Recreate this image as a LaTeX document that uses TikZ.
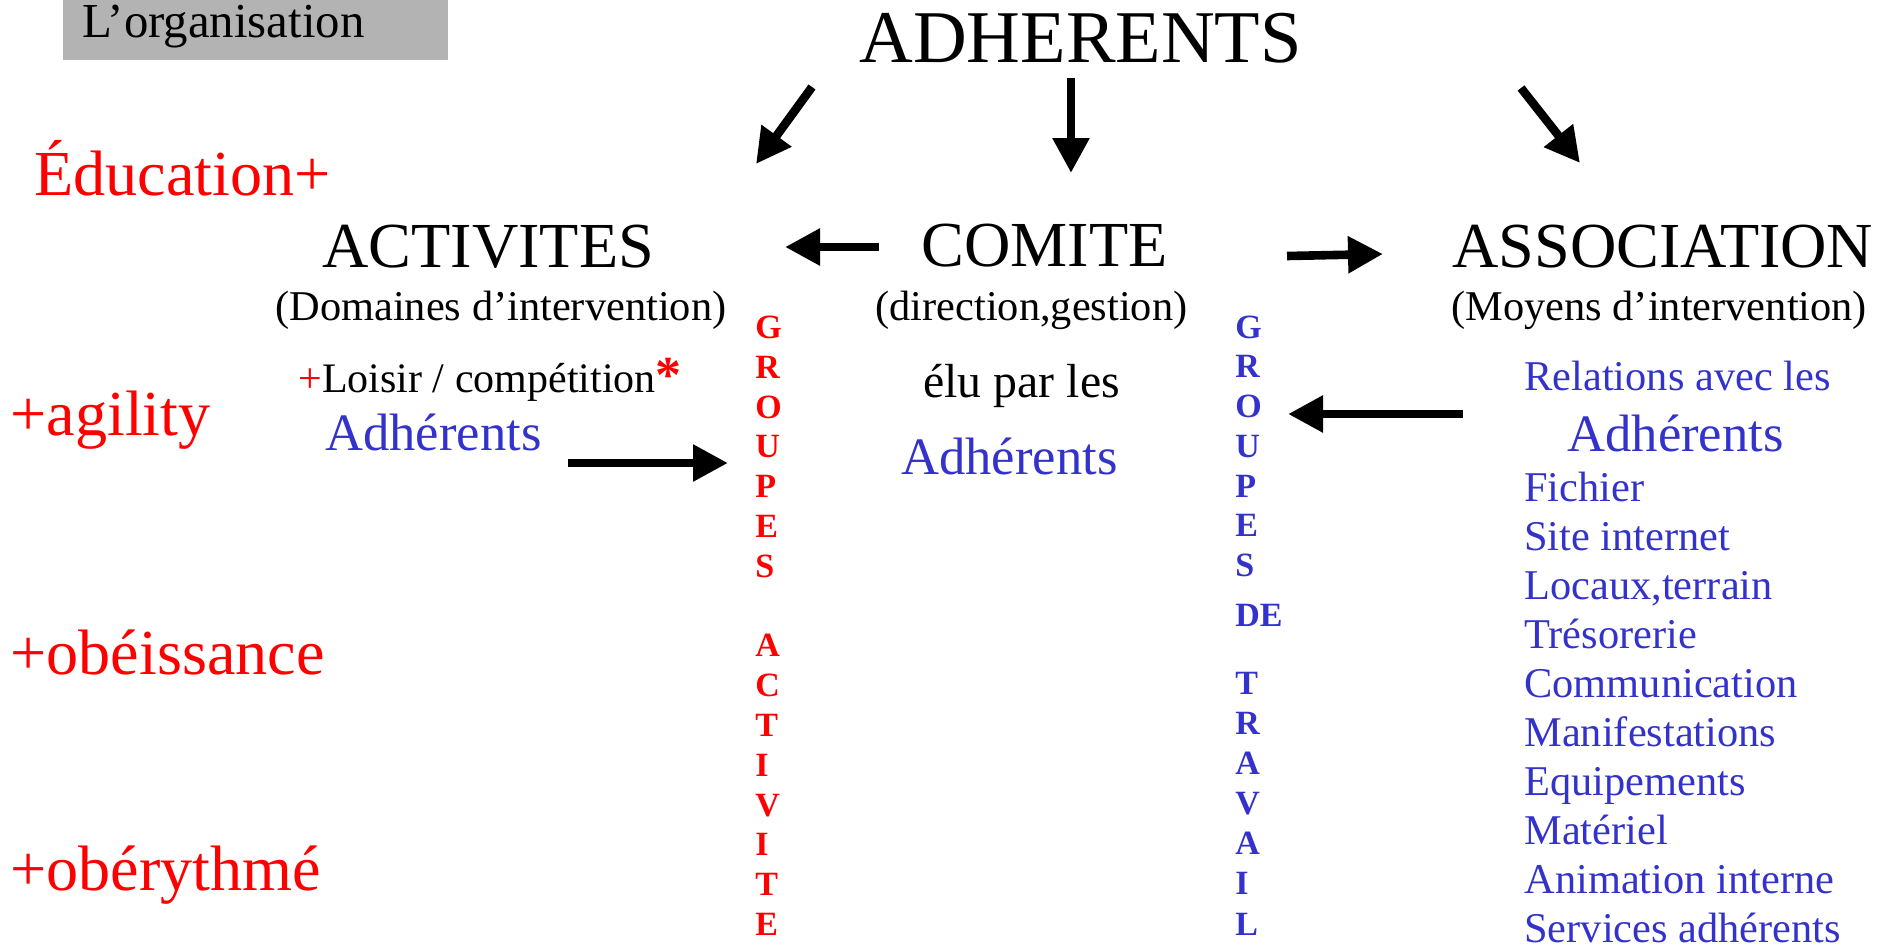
\documentclass[tikz,border=0pt]{standalone}
\usepackage{fontspec}
\setmainfont{Liberation Serif}
\usetikzlibrary{arrows.meta}
\definecolor{myblue}{HTML}{3333CC}
\definecolor{myred}{HTML}{FF0000}
\definecolor{mygray}{HTML}{B3B3B3}
\begin{document}
\begin{tikzpicture}[x=0.5pt,y=-0.5pt,
  txt/.style={inner sep=0pt, anchor=base west},
  huge/.style={txt, font=\fontsize{37.2}{40}\selectfont},
  big/.style={txt, font=\fontsize{32.1}{36}\selectfont},
  sidered/.style={big, text=myred},
  paren/.style={txt, font=\fontsize{21.2}{24}\selectfont},
  adh/.style={txt, font=\fontsize{26.3}{30}\selectfont, text=myblue},
  lst/.style={txt, font=\fontsize{21.2}{24}\selectfont, text=myblue},
  vred/.style={txt, font=\bfseries\fontsize{17}{18}\selectfont, text=myred},
  vblue/.style={txt, font=\bfseries\fontsize{17}{18}\selectfont, text=myblue},
  arr/.style={line width=4.3pt, -{Triangle[length=17.5pt,width=17.5pt]}}]
\useasboundingbox (0,0) rectangle (1888,949);
% title box
\fill[mygray] (63,0) rectangle (448,60);
\node[txt, font=\fontsize{24.4}{26}\selectfont] (org) at (82,37) {L’organisation};
% main titles
\node[huge] (adhs) at (859,62) {ADHERENTS};
\node[big] (act) at (322,267) {ACTIVITES};
\node[big] (com) at (921,266) {COMITE};
\node[big] (asso) at (1452,267) {ASSOCIATION};
\node[paren] (actp) at (275,320) {(Domaines d’intervention)};
\node[paren] (comp) at (875,320) {(direction,gestion)};
\node[paren] (assop) at (1451,320) {(Moyens d’intervention)};
% left column
\node[sidered] (edu) at (34,195) {Éducation+};
\node[sidered] (agi) at (10,435) {+agility};
\node[sidered] (obe) at (10,674) {+obéissance};
\node[sidered] (ryt) at (10,890) {+obérythmé};
% activites content
\node[txt, font=\fontsize{21}{24}\selectfont] (loisir) at (298,392) {\textcolor{myred}{+}Loisir / compétition\textcolor{myred}{\fontsize{26}{26}\selectfont\textbf{*}}};
\node[adh] (adh1) at (325,450) {Adhérents};
% comite content
\node[txt, font=\fontsize{23.9}{26}\selectfont] (elu) at (923,397) {élu par les};
\node[adh] (adh2) at (901,474) {Adhérents};
% association content
\node[lst] (rel) at (1524,390) {Relations avec les};
\node[adh] (adh3) at (1567,451) {Adhérents};
\foreach \t/\yy [count=\i] in {Fichier/501, Site internet/550, {Locaux,terrain}/599, Trésorerie/648, Communication/697, Manifestations/746, Equipements/795, Matériel/844, Animation interne/893, Services adhérents/942}
  \node[lst] (item\i) at (1524,\yy) {\t};
% vertical groups
\foreach \ch/\yy [count=\i] in {G/338, R/378, O/418, U/457, P/497, E/537, S/577, A/656, C/696, T/736, I/776, V/816, I/855, T/895, E/935}
  \node[vred] (ga\i) at (755,\yy) {\ch};
\foreach \ch/\yy [count=\i] in {G/338, R/377, O/417, U/457, P/497, E/536, S/576, DE/626, T/694, R/734, A/774, V/814, A/854, I/894, L/935}
  \node[vblue] (gt\i) at (1235,\yy) {\ch};
% arrow end points
\coordinate (a1s) at (812,87);   \coordinate (a1e) at (756,164);
\coordinate (a2s) at (1071,78);  \coordinate (a2e) at (1071,173);
\coordinate (a3s) at (1521,88);  \coordinate (a3e) at (1580,163);
\coordinate (a4s) at (879,247);  \coordinate (a4e) at (785,247);
\coordinate (a5s) at (1287,256); \coordinate (a5e) at (1383,254);
\coordinate (a6s) at (568,463);  \coordinate (a6e) at (728,463);
\coordinate (a7s) at (1463,414); \coordinate (a7e) at (1288,414);
\draw[arr] (a1s) -- (a1e);
\draw[arr] (a2s) -- (a2e);
\draw[arr] (a3s) -- (a3e);
\draw[arr] (a4s) -- (a4e);
\draw[arr] (a5s) -- (a5e);
\draw[arr] (a6s) -- (a6e);
\draw[arr] (a7s) -- (a7e);
\end{tikzpicture}
\end{document}
